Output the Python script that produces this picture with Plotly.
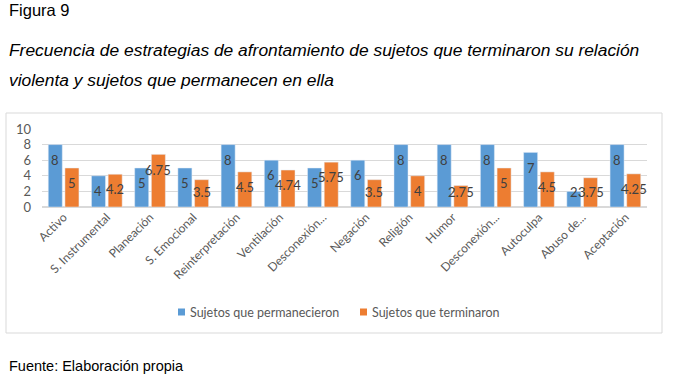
import plotly.graph_objects as go

categories = ["Activo", "S. Instrumental", "Planeación", "S. Emocional", "Reinterpretación",
              "Ventilación", "Desconexión...", "Negación", "Religión", "Humor",
              "Desconexión...", "Autoculpa", "Abuso de...", "Aceptación"]
permanecieron = [8, 4, 5, 5, 8, 6, 5, 6, 8, 8, 8, 7, 2, 8]
terminaron = [5, 4.2, 6.75, 3.5, 4.5, 4.74, 5.75, 3.5, 4, 2.75, 5, 4.5, 3.75, 4.25]
series_names = ["Sujetos que permanecieron", "Sujetos que terminaron"]
y_ticks = [0, 2, 4, 6, 8, 10]

W, H = 676, 381
L, R, T, B = 42, 647, 129, 207  # plot area in px
BLUE = "#5B9BD5"
ORANGE = "#ED7D31"
GRAY = "#595959"
CH_FONT = "Lato"
DOC_FONT = "Liberation Sans"

def px_x(px):
    return (px - L) / (R - L)

def px_y(py):
    return (B - py) / (B - T)

bargap = 0.228
bargroupgap = 0.16
half = (1 - bargap) / 4

idx = list(range(len(categories)))
fig = go.Figure()
fig.add_trace(go.Bar(x=idx, y=permanecieron, name=series_names[0], marker_color=BLUE,
                     showlegend=False))
fig.add_trace(go.Bar(x=idx, y=terminaron, name=series_names[1], marker_color=ORANGE,
                     showlegend=False))

annotations = []
def fmt(v):
    return ("%g" % v)

LBL = dict(family=CH_FONT, size=13, color="#404040")
for i, v in enumerate(permanecieron):
    annotations.append(dict(x=i - half, y=max(v - 1.95, 1.9), xref="x", yref="y", text=fmt(v),
                            showarrow=False, font=LBL))
for i, v in enumerate(terminaron):
    annotations.append(dict(x=i + half, y=max(v - 1.95, 1.9), xref="x", yref="y", text=fmt(v),
                            showarrow=False, font=LBL))

# Document texts
annotations.append(dict(x=px_x(7), y=px_y(10), xref="paper", yref="paper", text="Figura 9",
                        xanchor="left", yanchor="middle", showarrow=False,
                        font=dict(family=DOC_FONT, size=16.5, color="#000000")))
annotations.append(dict(x=px_x(7), y=px_y(50), xref="paper", yref="paper",
                        text="<i>Frecuencia de estrategias de afrontamiento de sujetos que terminaron su relación</i>",
                        xanchor="left", yanchor="middle", showarrow=False,
                        font=dict(family=DOC_FONT, size=17.4, color="#000000")))
annotations.append(dict(x=px_x(7), y=px_y(80), xref="paper", yref="paper",
                        text="<i>violenta y sujetos que permanecen en ella</i>",
                        xanchor="left", yanchor="middle", showarrow=False,
                        font=dict(family=DOC_FONT, size=17.4, color="#000000")))
annotations.append(dict(x=px_x(7), y=px_y(366), xref="paper", yref="paper",
                        text="Fuente: Elaboración propia",
                        xanchor="left", yanchor="middle", showarrow=False,
                        font=dict(family=DOC_FONT, size=14.5, color="#000000")))

# Manual legend
legend_items = [(178, BLUE, series_names[0]), (360, ORANGE, series_names[1])]
shapes = [dict(type="rect", xref="paper", yref="paper", x0=px_x(6), x1=px_x(662),
               y0=px_y(333), y1=px_y(113), line=dict(color="#D9D9D9", width=1),
               fillcolor="rgba(0,0,0,0)", layer="below")]
for x0, col, name in legend_items:
    shapes.append(dict(type="rect", xref="paper", yref="paper", x0=px_x(x0), x1=px_x(x0 + 7),
                       y0=px_y(315.5), y1=px_y(308.5), line=dict(width=0), fillcolor=col))
    annotations.append(dict(x=px_x(x0 + 10), y=px_y(312), xref="paper", yref="paper", text=name,
                            xanchor="left", yanchor="middle", showarrow=False,
                            font=dict(family=CH_FONT, size=12.5, color=GRAY)))

fig.update_layout(
    width=W, height=H,
    margin=dict(l=L, r=W - R, t=T, b=H - B, pad=0),
    paper_bgcolor="white", plot_bgcolor="white",
    barmode="group", bargap=bargap, bargroupgap=bargroupgap,
    annotations=annotations, shapes=shapes,
    showlegend=False,
)
fig.update_xaxes(range=[-0.5, len(categories) - 0.5], tickvals=idx, ticktext=categories,
                 tickangle=-45, tickfont=dict(family=CH_FONT, size=12, color=GRAY),
                 showgrid=False, zeroline=False, showline=False, ticks="", fixedrange=True)
fig.update_yaxes(range=[0, 10], tickvals=y_ticks, showgrid=True, gridcolor="#D9D9D9",
                 gridwidth=1, zeroline=True, zerolinecolor="#D9D9D9", showline=False,
                 ticks="", ticklabelstandoff=10,
                 tickfont=dict(family=CH_FONT, size=13, color=GRAY), fixedrange=True)

fig.write_html("out.html", config={"displayModeBar": False},
               post_script="document.body.style.margin='0';document.body.style.overflow='hidden';")
